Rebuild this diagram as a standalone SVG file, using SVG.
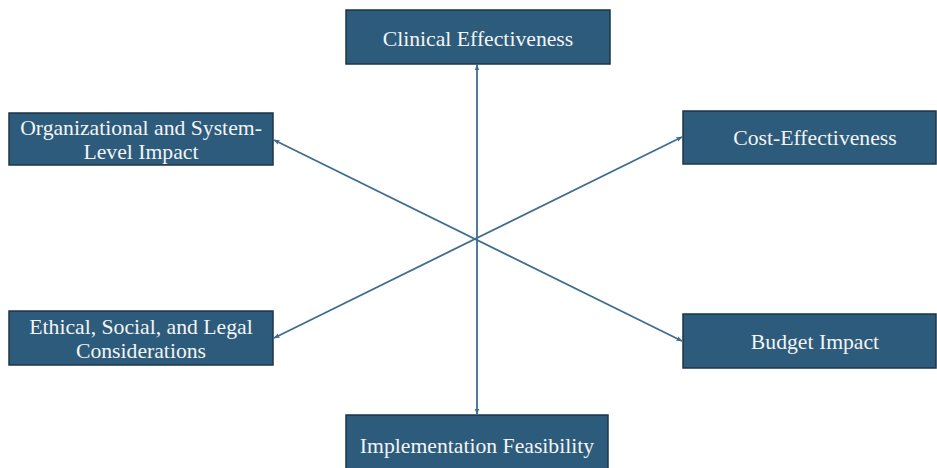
<svg xmlns="http://www.w3.org/2000/svg" width="937" height="468" viewBox="0 0 937 468">
<style>
.box{fill:#2d5b7b;stroke:#1c3448;stroke-width:1.5}
text{font-family:'Liberation Serif','Times New Roman','DejaVu Serif',serif;font-size:21.7px;fill:#f4f4f4;text-anchor:middle}
.c{stroke:#3f6d8f;stroke-width:1.8;fill:none;marker-start:url(#a);marker-end:url(#a)}
</style>
<defs>
<marker id="a" viewBox="0 0 10 10" refX="9" refY="5" markerWidth="6" markerHeight="6" orient="auto-start-reverse" markerUnits="userSpaceOnUse">
<path d="M0,1 L10,5 L0,9 z" fill="#3f6d8f"/>
</marker>
</defs>
<rect width="937" height="468" fill="#ffffff"/>
<g id="connectors">
<line class="c" x1="477" y1="65" x2="477" y2="414"/>
<line class="c" x1="274" y1="140" x2="682" y2="341"/>
<line class="c" x1="274" y1="338" x2="682" y2="137"/>
</g>
<g id="clinical"><rect class="box" x="346" y="10" width="264" height="54"/><text x="478" y="46">Clinical Effectiveness</text></g>
<g id="organizational"><rect class="box" x="9" y="113" width="264" height="52"/><text x="141" y="135">Organizational and System-</text><text x="141" y="159">Level Impact</text></g>
<g id="cost"><rect class="box" x="683" y="111" width="253" height="53"/><text x="815" y="145">Cost-Effectiveness</text></g>
<g id="ethical"><rect class="box" x="9" y="311" width="264" height="54"/><text x="141" y="334">Ethical, Social, and Legal</text><text x="141" y="358">Considerations</text></g>
<g id="budget"><rect class="box" x="683" y="314" width="253" height="54"/><text x="815" y="349">Budget Impact</text></g>
<g id="implementation"><rect class="box" x="346" y="415" width="262" height="60"/><text x="477" y="453">Implementation Feasibility</text></g>
</svg>
